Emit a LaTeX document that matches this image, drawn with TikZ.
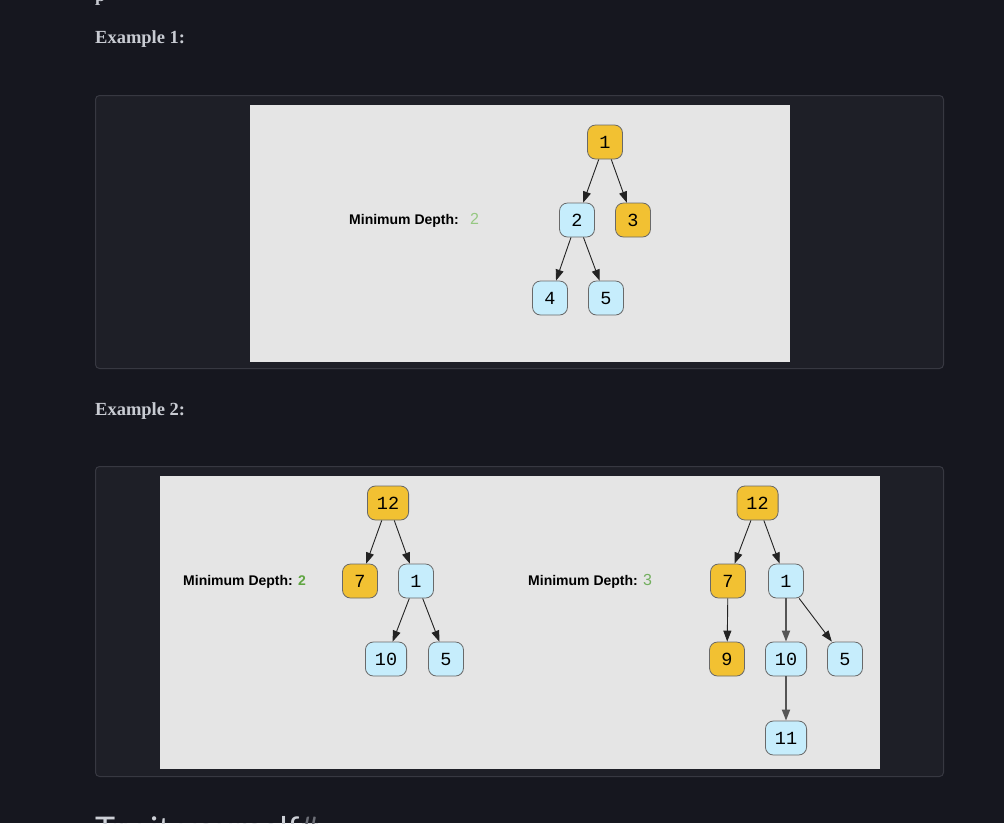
\documentclass[tikz,border=0pt]{standalone}
\usepackage{fontspec}
\setmainfont{Liberation Serif}
\newfontfamily\labfont{Liberation Sans}
\newfontfamily\nodefont{Liberation Mono}
\newfontfamily\headfont{Lato}
\usetikzlibrary{arrows.meta}
\definecolor{pagebg}{RGB}{22,23,31}
\definecolor{panelbg}{RGB}{30,31,39}
\definecolor{panelline}{RGB}{55,56,65}
\definecolor{imgbg}{RGB}{229,229,229}
\definecolor{headtxt}{RGB}{200,203,210}
\definecolor{titletxt}{RGB}{205,208,214}
\definecolor{hashtxt}{RGB}{110,112,120}
\definecolor{gold}{RGB}{242,193,50}
\definecolor{sky}{RGB}{198,237,252}
\definecolor{nodeline}{RGB}{105,105,105}
\definecolor{arrowc}{RGB}{35,35,35}
\definecolor{heavyc}{RGB}{85,85,85}
\definecolor{greenlight}{RGB}{150,200,130}
\definecolor{greenbold}{RGB}{95,165,65}
\definecolor{greenmid}{RGB}{115,175,95}
\tikzset{
  tnode/.style={draw=nodeline, line width=0.8pt, rounded corners=8pt,
    minimum width=35pt, minimum height=34pt, inner xsep=9.5pt, inner ysep=0pt,
    font=\nodefont\fontsize{18.5}{18.5}\selectfont, text=black},
  goldnode/.style={tnode, fill=gold},
  skynode/.style={tnode, fill=sky},
  edge/.style={draw=arrowc, line width=0.9pt, -{Triangle[length=11pt,width=8pt]}},
  heavyedge/.style={draw=heavyc, line width=1.8pt, -{Triangle[length=11pt,width=8pt]}},
  heading/.style={anchor=base west, inner sep=0pt, text=headtxt,
    font=\bfseries\fontsize{18.5}{18.5}\selectfont},
  deptxt/.style={anchor=base west, inner sep=0pt, text=black,
    font=\labfont\bfseries\fontsize{14}{14}\selectfont},
  panel/.style={draw=panelline, fill=panelbg, line width=1pt, rounded corners=4pt}
}
\begin{document}
\begin{tikzpicture}[x=1pt,y=-1pt]
\useasboundingbox (0,0) rectangle (1004,823);
\clip (0,0) rectangle (1004,823);
\fill[pagebg] (0,0) rectangle (1004,823);

% cut-off text at top
\node[heading] (toptxt) at (95,1) {p};

% headings
\node[heading] (ex1) at (95,43) {Example 1:};
\node[heading] (ex2) at (95,415) {Example 2:};

% panels
\draw[panel] (95.5,95.5) rectangle (943.5,368.5);
\fill[imgbg] (250,105) rectangle (790,362);
\draw[panel] (95.5,466.5) rectangle (943.5,776.5);
\fill[imgbg] (160,476) rectangle (880,769);

% ---------- Example 1 ----------
\node[deptxt] (d1) at (349,224) {Minimum Depth:};
\node[anchor=base west, inner sep=0pt, text=greenlight,
  font=\labfont\fontsize{16}{16}\selectfont] (d1v) at (470,224) {2};
\node[goldnode] (a1) at (605,142) {1};
\node[skynode]  (a2) at (577,220) {2};
\node[goldnode] (a3) at (633,220) {3};
\node[skynode]  (a4) at (550,298) {4};
\node[skynode]  (a5) at (606,298) {5};
\draw[edge] (a1) -- (a2);
\draw[edge] (a1) -- (a3);
\draw[edge] (a2) -- (a4);
\draw[edge] (a2) -- (a5);

% ---------- Example 2 left ----------
\node[deptxt] (d2) at (183,585) {Minimum Depth: {\color{greenbold}2}};
\node[goldnode] (b12) at (388,503) {12};
\node[goldnode] (b7)  at (360,581) {7};
\node[skynode]  (b1)  at (416,581) {1};
\node[skynode]  (b10) at (386,659) {10};
\node[skynode]  (b5)  at (446,659) {5};
\draw[edge] (b12) -- (b7);
\draw[edge] (b12) -- (b1);
\draw[edge] (b1) -- (b10);
\draw[edge] (b1) -- (b5);

% ---------- Example 2 right ----------
\node[deptxt] (d3) at (528,585) {Minimum Depth:};
\node[anchor=base west, inner sep=0pt, text=greenmid,
  font=\labfont\fontsize{16}{16}\selectfont] (d3v) at (643,585) {3};
\node[goldnode] (c12) at (757.5,503) {12};
\node[goldnode] (c7)  at (728,581) {7};
\node[skynode]  (c1)  at (786,581) {1};
\node[goldnode] (c9)  at (727,659) {9};
\node[skynode]  (c10) at (786,659) {10};
\node[skynode]  (c5)  at (845,659) {5};
\node[skynode]  (c11) at (786,738) {11};
\draw[edge] (c12) -- (c7);
\draw[edge] (c12) -- (c1);
\draw[edge] (c7) -- (c9);
\draw[heavyedge] (c1) -- (c10);
\draw[edge] (c1) -- (c5);
\draw[heavyedge] (c10) -- (c11);

% cut-off title at bottom
\node[anchor=base west, inner sep=0pt, text=titletxt,
  font=\headfont\fontsize{34}{34}\selectfont] (tiy) at (95,841)
  {Try it yourself{\color{hashtxt}\#}};
\end{tikzpicture}
\end{document}
